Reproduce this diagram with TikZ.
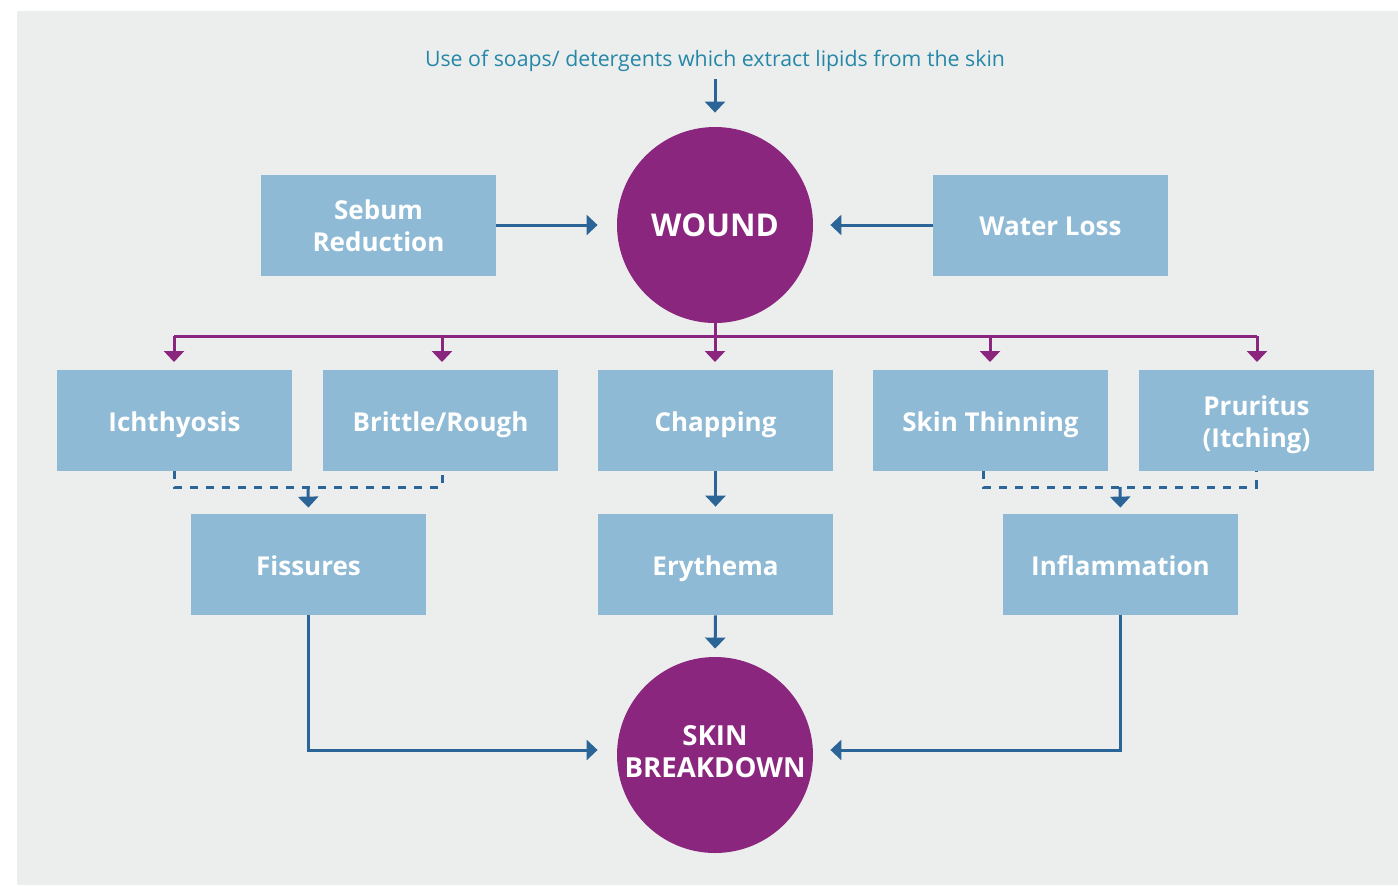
\documentclass[tikz,border=0pt]{standalone}
\usepackage{fontspec}
\setmainfont{Open Sans}
\usetikzlibrary{arrows.meta}
\definecolor{bg}{HTML}{ECEEED}
\definecolor{boxc}{HTML}{8EBAD5}
\definecolor{purp}{HTML}{8A267E}
\definecolor{arrb}{HTML}{2B6497}
\definecolor{topt}{HTML}{2587A8}
\begin{document}
\begin{tikzpicture}[x=0.5pt,y=-0.5pt,
  boxn/.style={fill=boxc, minimum width=117.5pt, minimum height=50.5pt, inner sep=0pt},
  boxlab/.style={text=white, font=\bfseries\fontsize{13}{16}\selectfont, align=center, inner sep=0pt, yshift=-2pt},
  nodesc/.style={boxlab, yshift=1.5pt},
  circn/.style={circle, fill=purp, minimum size=98pt, inner sep=0pt},
  circlab/.style={text=white, align=center, inner sep=0pt},
  barrow/.style={draw=arrb, line width=1.5pt, -{Triangle[width=10pt,length=5.5pt]}},
  parrow/.style={draw=purp, line width=1.5pt, -{Triangle[width=10pt,length=5.5pt]}},
  pline/.style={draw=purp, line width=1.5pt},
  dline/.style={draw=arrb, line width=1.5pt, dash pattern=on 4pt off 4pt}]
\useasboundingbox (0,0) rectangle (1398,885);
\fill[white] (0,0) rectangle (1398,885);
\fill[bg] (17,11) rectangle (1398,885);
% top text
\node[text=topt, font=\fontsize{10.65}{12}\selectfont, inner sep=0pt] (src) at (715,61) {Use of soaps/ detergents which extract lipids from the skin};
\coordinate (srcend) at (715,79);
% circles
\node[circn, label={[circlab, font=\bfseries\fontsize{15.7}{18}\selectfont]center:WOUND}] (wound) at (715,225) {};
\node[circn, label={[circlab, font=\bfseries\fontsize{13.8}{16}\selectfont, yshift=1.5pt]center:SKIN\\BREAKDOWN}] (skin) at (715,755) {};
% boxes
\node[boxn, label={[nodesc]center:Sebum\\Reduction}] (sebum) at (378.5,225) {};
\node[boxn, label={[nodesc]center:Water Loss}] (water) at (1050.5,225) {};
\node[boxn, label={[boxlab]center:Ichthyosis}] (ich) at (174.5,420.5) {};
\node[boxn, label={[boxlab]center:Brittle/Rough}] (brit) at (440.5,420.5) {};
\node[boxn, label={[boxlab]center:Chapping}] (chap) at (715.5,420.5) {};
\node[boxn, label={[boxlab]center:Skin Thinning}] (thin) at (990.5,420.5) {};
\node[boxn, label={[boxlab]center:Pruritus\\(Itching)}] (prur) at (1256.5,420.5) {};
\node[boxn, label={[nodesc]center:Fissures}] (fiss) at (308.5,564.5) {};
\node[boxn, label={[boxlab]center:Erythema}] (ery) at (715.5,564.5) {};
\node[boxn, label={[nodesc]center:Inflammation}] (infl) at (1120.5,564.5) {};
% top arrow
\draw[barrow, shorten >=7pt] (srcend) -- (wound.north);
% side arrows
\draw[barrow, shorten >=9.5pt] (sebum.east) -- (wound.west);
\draw[barrow, shorten >=8.5pt] (water.west) -- (wound.east);
% purple bus
\coordinate (bus) at (715,336);
\coordinate (busL) at (174,336);
\coordinate (busR) at (1257,336);
\draw[pline] (wound.south) -- (bus);
\draw[pline] (busL) -- (busR);
\draw[parrow] (busL) -- (174,362);
\draw[parrow] (442,336) -- (442,362);
\draw[parrow] (bus) -- (715,362);
\draw[parrow] (990,336) -- (990,362);
\draw[parrow] (busR) -- (1257,362);
% dashed merges
\coordinate (dl1) at (174,471);
\coordinate (dl2) at (174,487);
\coordinate (dl3) at (442,487);
\coordinate (dl4) at (442,471);
\draw[dline] (dl1) -- (dl2) -- (dl3) -- (dl4);
\coordinate (fissin) at (308,487);
\draw[barrow, shorten >=3pt] (fissin) -- (fiss.north);
\coordinate (dr1) at (983,471);
\coordinate (dr2) at (983,487);
\coordinate (dr3) at (1256,487);
\coordinate (dr4) at (1256,471);
\draw[dline] (dr1) -- (dr2) -- (dr3) -- (dr4);
\coordinate (inflin) at (1120,487);
\draw[barrow, shorten >=3pt] (inflin) -- (infl.north);
% chapping to erythema
\draw[barrow, shorten >=3.5pt] (chap.south) -- (ery.north);
% erythema to skin
\draw[barrow, shorten >=4pt] (ery.south) -- (skin.north);
% fissures and inflammation to skin
\draw[barrow, shorten >=9.5pt] (fiss.south) |- ([yshift=2.5pt]skin.west);
\draw[barrow, shorten >=8.5pt] (infl.south) |- ([yshift=2.5pt]skin.east);
\end{tikzpicture}
\end{document}
